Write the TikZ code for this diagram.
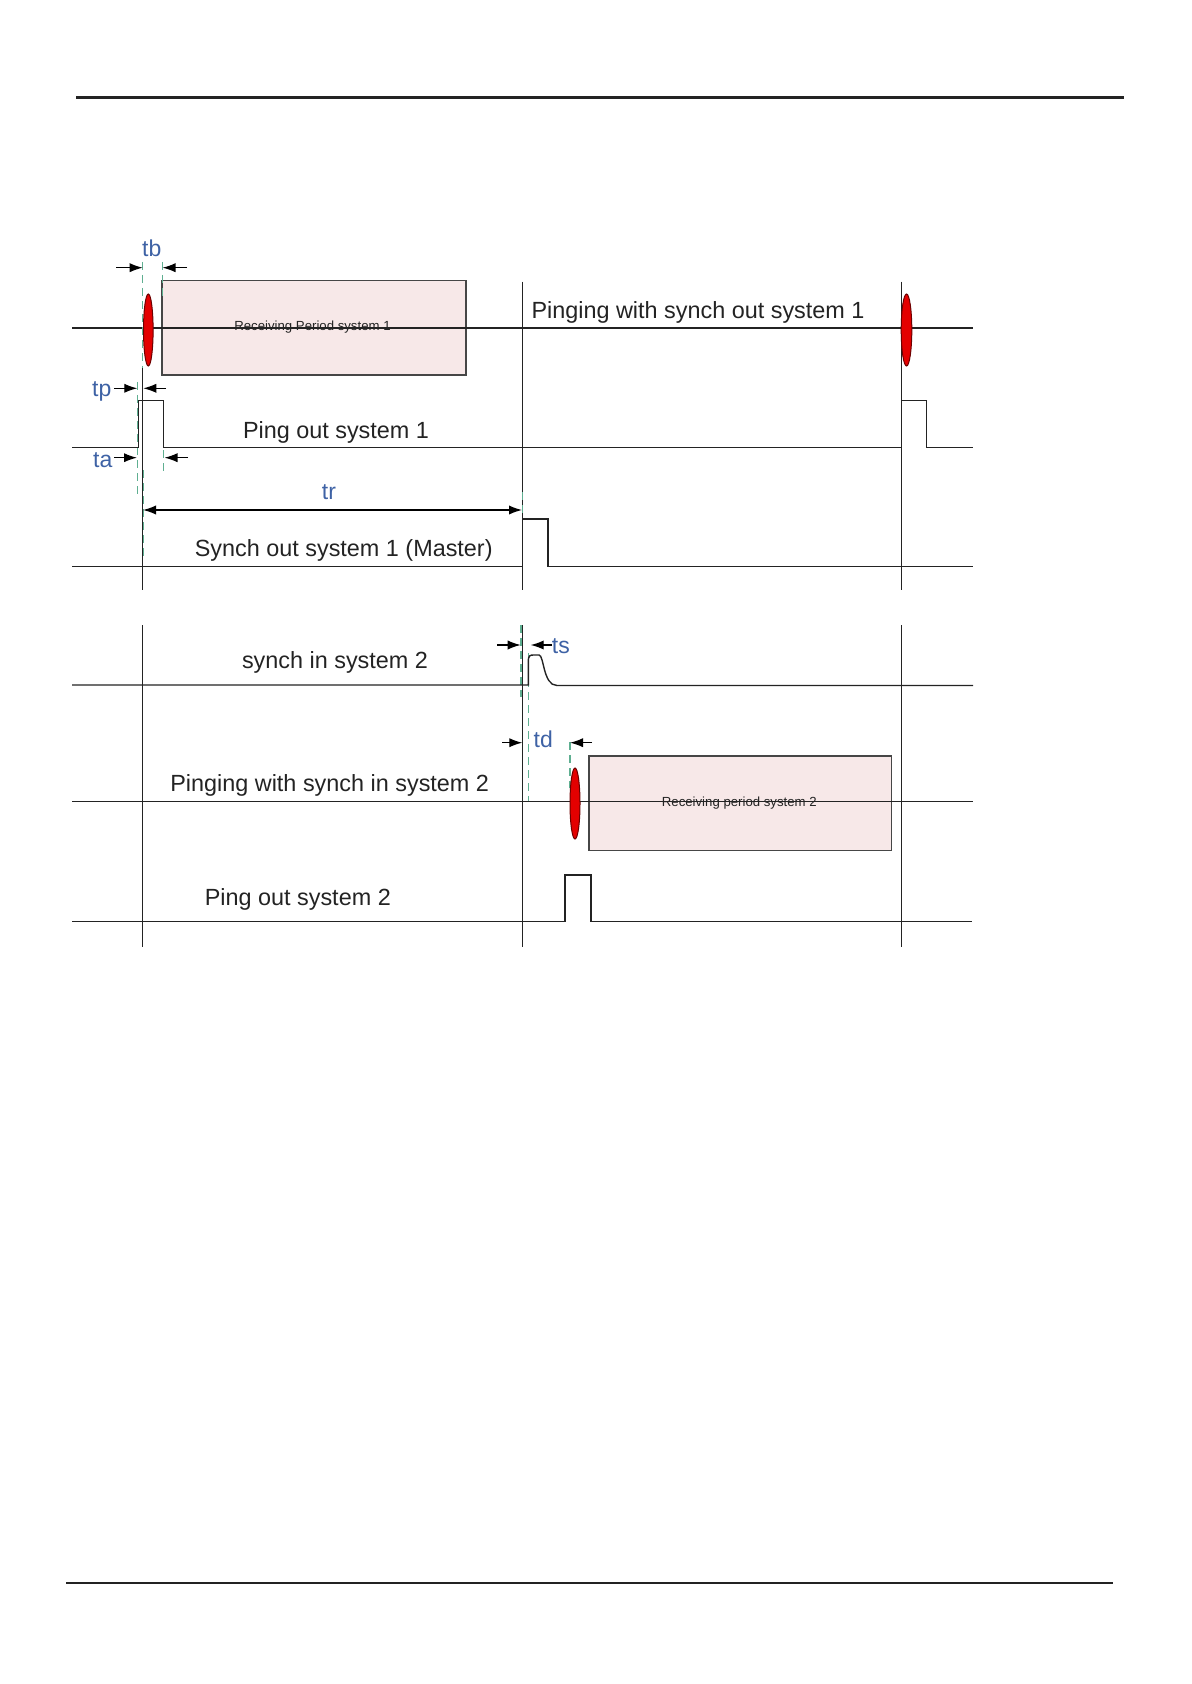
\documentclass[tikz,border=0pt]{standalone}
\usepackage{fontspec}
\setmainfont{Liberation Sans}
\usetikzlibrary{arrows.meta}
\definecolor{dimblue}{RGB}{62,98,165}
\definecolor{guide}{RGB}{95,175,145}
\definecolor{boxfill}{RGB}{247,232,232}
\definecolor{boxedge}{RGB}{70,70,70}
\definecolor{pingred}{RGB}{228,0,0}
\definecolor{pingedge}{RGB}{110,0,0}
\definecolor{ink}{RGB}{35,35,35}
\tikzset{
  sig/.style={draw=ink, line width=0.7pt, line join=miter},
  vline/.style={draw=ink, line width=0.7pt},
  rule/.style={draw=ink, line width=1.1pt},
  guideline/.style={draw=guide, line width=0.7pt, dash pattern=on 4pt off 2.5pt},
  dimarrow/.style={draw=black, line width=0.6pt, -{Latex[length=6.5pt,width=4.6pt]}},
  twoarrow/.style={draw=black, line width=0.6pt, {Latex[length=6.5pt,width=4.6pt]}-{Latex[length=6.5pt,width=4.6pt]}},
  recvbox/.style={draw=boxedge, fill=boxfill, line width=0.7pt},
  pingdot/.style={draw=pingedge, fill=pingred, line width=0.5pt},
  siglabel/.style={anchor=base, inner sep=0pt, text=ink, font=\fontsize{11.7}{14}\selectfont},
  smalllabel/.style={anchor=base, inner sep=0pt, text=ink, font=\fontsize{6.6}{8}\selectfont},
  dimlabel/.style={anchor=base, inner sep=0pt, text=dimblue, font=\fontsize{11.5}{14}\selectfont}
}
\begin{document}
\begin{tikzpicture}[x=0.5pt,y=-0.5pt]
\useasboundingbox (0,0) rectangle (1191,1684);
% page rules
\draw[rule] (76,97.5) -- (1124,97.5);
\draw[rule] (66,1583) -- (1113,1583);

% ================= top section =================
% receiving box 1
\draw[recvbox] (162,280.5) rectangle (466,375);
\node[smalllabel] (recv1) at (312.5,331) {Receiving Period system 1};
% signal line 1
\draw[sig] (72,328) -- (973,328);
% verticals
\draw[vline] (522.3,281.7) -- (522.3,590);
\draw[vline] (901.7,281.7) -- (901.7,590);
\draw[vline] (142.7,368) -- (142.7,590);
% guide lines
\draw[guideline] (142.7,262) -- (142.7,368);
\draw[guideline] (162.5,262) -- (162.5,300);
\draw[guideline] (137.3,382) -- (137.3,496);
\draw[guideline] (163.5,450) -- (163.5,473);
\draw[guideline] (522.3,492) -- (522.3,564);
\draw[guideline] (143.5,470) -- (143.5,560);
% ping dots
\draw[pingdot] (148.3,330) ellipse [x radius=4.8, y radius=36];
\draw[pingdot] (906.5,330) ellipse [x radius=5.3, y radius=36];
% ping out system 1
\draw[sig] (72,447.5) -- (138.5,447.5) -- (138.5,400.5) -- (163.5,400.5) -- (163.5,447.5)
  -- (901.7,447.5) -- (901.7,400.5) -- (926.5,400.5) -- (926.5,447.5) -- (973,447.5);
% synch out system 1
\draw[sig] (72,566.5) -- (522.3,566.5) -- (522.3,519) -- (548,519) -- (548,566.5) -- (973,566.5);
% labels
\node[siglabel] (lab1) at (698,319) {Pinging with synch out system 1};
\node[siglabel] (lab2) at (336,438.3) {Ping out system 1};
\node[siglabel] (lab3) at (343.7,556) {Synch out system 1 (Master)};
% dimension tb
\coordinate (tbL0) at (116,267.7); \coordinate (tbL1) at (142.7,267.7);
\coordinate (tbR0) at (187,267.7); \coordinate (tbR1) at (162.5,267.7);
\draw[dimarrow] (tbL0) -- (tbL1);
\draw[dimarrow] (tbR0) -- (tbR1);
\node[dimlabel] (tb) at (151.7,256.7) {tb};
% dimension tp
\coordinate (tpL0) at (114,388.3); \coordinate (tpL1) at (137.3,388.3);
\coordinate (tpR0) at (166,388.3); \coordinate (tpR1) at (143.3,388.3);
\draw[dimarrow] (tpL0) -- (tpL1);
\draw[dimarrow] (tpR0) -- (tpR1);
\node[dimlabel] (tp) at (101.7,396.7) {tp};
% dimension ta
\coordinate (taL0) at (114,457.7); \coordinate (taL1) at (137,457.7);
\coordinate (taR0) at (188,457.7); \coordinate (taR1) at (164.5,457.7);
\draw[dimarrow] (taL0) -- (taL1);
\draw[dimarrow] (taR0) -- (taR1);
\node[dimlabel] (ta) at (102.7,467.7) {ta};
% dimension tr
\coordinate (trL) at (143,510); \coordinate (trR) at (522,510);
\draw[twoarrow] (trL) -- (trR);
\node[dimlabel] (tr) at (329,499.3) {tr};

% ================= bottom section =================
\draw[vline] (142.7,625) -- (142.7,946.7);
\draw[vline] (522.3,625) -- (522.3,946.7);
\draw[vline] (901.7,625) -- (901.7,946.7);
% receiving box 2
\draw[recvbox] (589,756) rectangle (891.7,850.7);
\node[smalllabel] (recv2) at (739.3,806.7) {Receiving period system 2};
% guide lines
\draw[guideline] (521,625) -- (521,697);
\draw[guideline] (528.5,653) -- (528.5,802);
\draw[guideline] (570,742) -- (570,788);
% synch in system 2
\draw[sig] (72,685) -- (528.3,685) -- (528.3,662) .. controls (528.3,655) and (530,655) .. (534,655)
  -- (539,655) .. controls (544,655) and (543,685.5) .. (557,685.5) -- (973,685.5);
% pinging with synch in line
\draw[sig] (72,801.7) -- (973,801.7);
\draw[pingdot] (575,803.5) ellipse [x radius=5, y radius=35.5];
% ping out system 2
\draw[sig] (72,921.7) -- (565,921.7) -- (565,875) -- (591,875) -- (591,921.7) -- (972,921.7);
% labels
\node[siglabel] (lab4) at (335,668.3) {synch in system 2};
\node[siglabel] (lab5) at (329.7,791) {Pinging with synch in system 2};
\node[siglabel] (lab6) at (297.8,905) {Ping out system 2};
% dimension ts
\coordinate (tsL0) at (497,645); \coordinate (tsL1) at (520.7,645);
\coordinate (tsR0) at (552,645); \coordinate (tsR1) at (530.7,645);
\draw[dimarrow] (tsL0) -- (tsL1);
\draw[dimarrow] (tsR0) -- (tsR1);
\node[dimlabel, anchor=base west] (ts) at (551.5,653.3) {ts};
% dimension td
\coordinate (tdL0) at (502,742.7); \coordinate (tdL1) at (522.3,742.7);
\coordinate (tdR0) at (592,742.7); \coordinate (tdR1) at (570,742.7);
\draw[dimarrow] (tdL0) -- (tdL1);
\draw[dimarrow] (tdR0) -- (tdR1);
\node[dimlabel] (td) at (543.3,747.3) {td};
\end{tikzpicture}
\end{document}
